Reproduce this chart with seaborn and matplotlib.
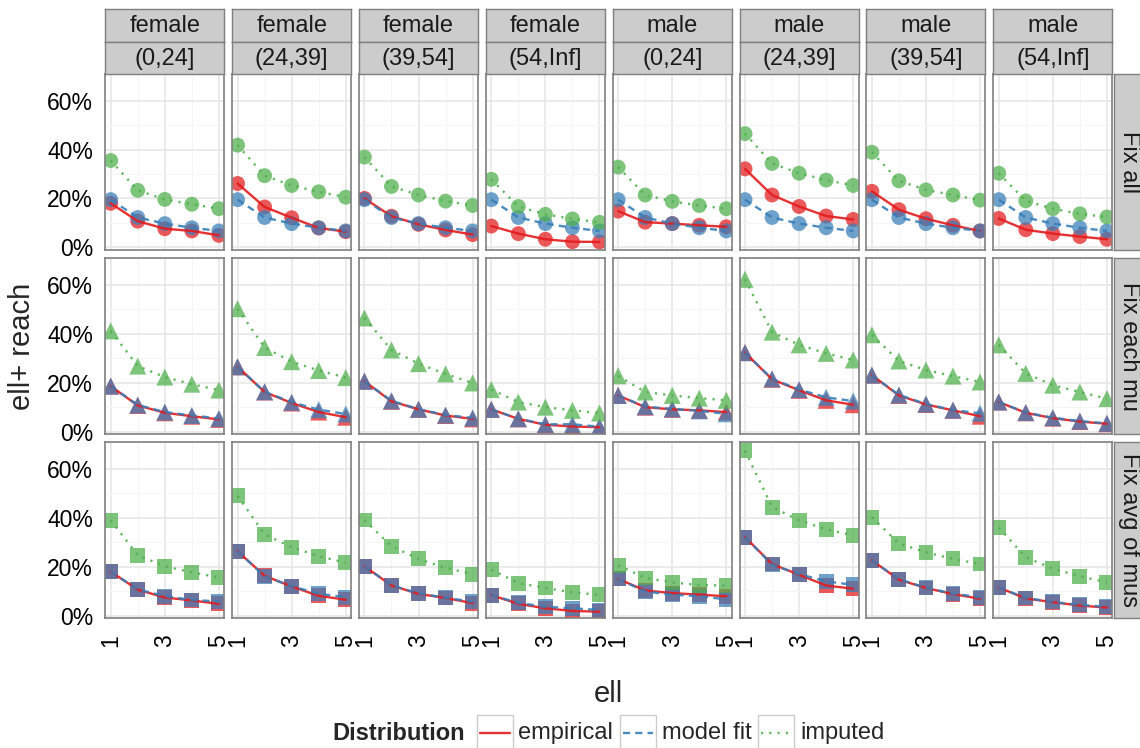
import numpy as np
import pandas as pd
import matplotlib
matplotlib.use("Agg")
import matplotlib.pyplot as plt
from matplotlib.lines import Line2D
from matplotlib.patches import Rectangle
from matplotlib.ticker import FixedLocator, FuncFormatter
import seaborn as sns

# ---------------- data ----------------
ell = [1, 2, 3, 4, 5]
genders = ["female"] * 4 + ["male"] * 4
ages = ["(0,24]", "(24,39]", "(39,54]", "(54,Inf]"] * 2
methods = ["Fix all", "Fix each mu", "Fix avg of mus"]
distributions = ["empirical", "model fit", "imputed"]

fixall_empirical = [
    [0.180, 0.107, 0.076, 0.067, 0.049],
    [0.261, 0.165, 0.121, 0.079, 0.064],
    [0.200, 0.127, 0.094, 0.071, 0.052],
    [0.087, 0.056, 0.033, 0.023, 0.022],
    [0.148, 0.103, 0.097, 0.090, 0.084],
    [0.321, 0.214, 0.167, 0.128, 0.114],
    [0.229, 0.154, 0.117, 0.090, 0.067],
    [0.118, 0.072, 0.056, 0.044, 0.033],
]
fixall_model = [[0.195, 0.122, 0.097, 0.080, 0.067]] * 8
fixall_imputed = [
    [0.355, 0.233, 0.196, 0.176, 0.158],
    [0.418, 0.293, 0.253, 0.227, 0.205],
    [0.369, 0.249, 0.214, 0.189, 0.171],
    [0.278, 0.167, 0.135, 0.116, 0.102],
    [0.328, 0.214, 0.188, 0.171, 0.158],
    [0.465, 0.343, 0.303, 0.275, 0.253],
    [0.389, 0.272, 0.235, 0.214, 0.193],
    [0.303, 0.190, 0.158, 0.137, 0.124],
]

eachmu_empirical = [
    [0.186, 0.107, 0.077, 0.063, 0.050],
    [0.265, 0.162, 0.117, 0.080, 0.059],
    [0.206, 0.124, 0.091, 0.066, 0.052],
    [0.091, 0.052, 0.028, 0.021, 0.018],
    [0.148, 0.100, 0.091, 0.087, 0.080],
    [0.323, 0.214, 0.169, 0.128, 0.110],
    [0.231, 0.148, 0.111, 0.087, 0.063],
    [0.121, 0.077, 0.055, 0.041, 0.032],
]
eachmu_model = [
    [0.186, 0.109, 0.080, 0.066, 0.054],
    [0.265, 0.163, 0.120, 0.090, 0.072],
    [0.206, 0.126, 0.092, 0.068, 0.056],
    [0.091, 0.053, 0.030, 0.030, 0.020],
    [0.148, 0.102, 0.093, 0.085, 0.073],
    [0.323, 0.216, 0.172, 0.140, 0.125],
    [0.231, 0.150, 0.113, 0.088, 0.075],
    [0.121, 0.078, 0.057, 0.043, 0.034],
]
eachmu_imputed = [
    [0.412, 0.268, 0.223, 0.194, 0.170],
    [0.503, 0.344, 0.286, 0.250, 0.221],
    [0.465, 0.334, 0.278, 0.236, 0.199],
    [0.172, 0.121, 0.100, 0.087, 0.076],
    [0.228, 0.162, 0.148, 0.137, 0.128],
    [0.623, 0.407, 0.355, 0.320, 0.293],
    [0.396, 0.289, 0.252, 0.227, 0.203],
    [0.355, 0.238, 0.190, 0.162, 0.135],
]

avgmus_empirical = [
    [0.180, 0.106, 0.074, 0.062, 0.048],
    [0.263, 0.163, 0.119, 0.081, 0.065],
    [0.202, 0.123, 0.089, 0.072, 0.051],
    [0.084, 0.048, 0.030, 0.019, 0.016],
    [0.150, 0.103, 0.092, 0.086, 0.079],
    [0.321, 0.211, 0.167, 0.123, 0.110],
    [0.226, 0.147, 0.113, 0.088, 0.069],
    [0.115, 0.070, 0.055, 0.041, 0.033],
]
avgmus_model = [
    [0.180, 0.107, 0.080, 0.064, 0.058],
    [0.263, 0.161, 0.120, 0.090, 0.075],
    [0.202, 0.124, 0.091, 0.073, 0.057],
    [0.084, 0.052, 0.036, 0.030, 0.023],
    [0.150, 0.099, 0.085, 0.080, 0.066],
    [0.321, 0.208, 0.170, 0.140, 0.126],
    [0.226, 0.149, 0.114, 0.090, 0.075],
    [0.115, 0.072, 0.056, 0.044, 0.036],
]
avgmus_imputed = [
    [0.390, 0.247, 0.202, 0.177, 0.156],
    [0.490, 0.332, 0.280, 0.243, 0.216],
    [0.391, 0.284, 0.232, 0.195, 0.170],
    [0.188, 0.133, 0.113, 0.095, 0.085],
    [0.206, 0.154, 0.136, 0.125, 0.123],
    [0.675, 0.444, 0.390, 0.353, 0.328],
    [0.403, 0.295, 0.259, 0.232, 0.211],
    [0.360, 0.239, 0.192, 0.161, 0.136],
]

y_ticks = [0.0, 0.2, 0.4, 0.6]
x_ticks = [1, 3, 5]

table = {
    "Fix all": [fixall_empirical, fixall_model, fixall_imputed],
    "Fix each mu": [eachmu_empirical, eachmu_model, eachmu_imputed],
    "Fix avg of mus": [avgmus_empirical, avgmus_model, avgmus_imputed],
}
rows = []
for m in methods:
    for d, series in zip(distributions, table[m]):
        for p in range(8):
            for e, v in zip(ell, series[p]):
                rows.append(dict(method=m, panel=p, gender=genders[p], age=ages[p],
                                 Distribution=d, ell=e, reach=v))
df = pd.DataFrame(rows)

# ---------------- style ----------------
sns.set_style("white")
plt.rcParams["font.family"] = ["Liberation Sans", "DejaVu Sans"]

palette = {"empirical": "#E41A1C", "model fit": "#377EB8", "imputed": "#4DAF4A"}
dashes = {"empirical": "", "model fit": (3.0, 2.2), "imputed": (0.9, 2.6)}
row_markers = {"Fix all": "o", "Fix each mu": "^", "Fix avg of mus": "s"}
row_sizes = {"Fix all": 115, "Fix each mu": 150, "Fix avg of mus": 115}

W, H = 1140, 748
fig = plt.figure(figsize=(W / 100, H / 100), dpi=100)

def fx(x):
    return x / W

def fy(y):
    return 1 - y / H

panel_left0 = 105.3
panel_step = 126.86
panel_w = 119.0
row_tops = [74.0, 258.3, 442.3]
panel_h = 176.0
border_col = "#7F7F7F"
strip_col = "#CCCCCC"

for r, m in enumerate(methods):
    for p in range(8):
        L = panel_left0 + p * panel_step
        T = row_tops[r]
        ax = fig.add_axes([fx(L), fy(T + panel_h), panel_w / W, panel_h / H])
        sub = df[(df.method == m) & (df.panel == p)]
        sns.scatterplot(data=sub, x="ell", y="reach", hue="Distribution",
                        hue_order=distributions, palette=palette,
                        marker=row_markers[m], s=row_sizes[m], alpha=0.72,
                        linewidth=0, legend=False, ax=ax, zorder=3)
        sns.lineplot(data=sub, x="ell", y="reach", hue="Distribution",
                     style="Distribution", hue_order=distributions,
                     style_order=distributions, palette=palette, dashes=dashes,
                     linewidth=1.7, alpha=0.9, legend=False, ax=ax,
                     errorbar=None, zorder=4)
        ax.set_xlim(0.8, 5.2)
        ax.set_ylim(-0.011, 0.709)
        ax.xaxis.set_major_locator(FixedLocator(x_ticks))
        ax.xaxis.set_minor_locator(FixedLocator([2, 4]))
        ax.yaxis.set_major_locator(FixedLocator(y_ticks))
        ax.yaxis.set_minor_locator(FixedLocator([0.1, 0.3, 0.5]))
        ax.grid(True, which="major", color="#E6E6E6", lw=1.1, zorder=0)
        ax.grid(True, which="minor", color="#F5F5F5", lw=0.8, zorder=0)
        ax.set_axisbelow(True)
        for s in ax.spines.values():
            s.set_color(border_col)
            s.set_linewidth(1.2)
            s.set_zorder(6)
        ax.set_xlabel("")
        ax.set_ylabel("")
        ax.tick_params(which="minor", length=0)
        ax.tick_params(which="major", direction="out", length=5.8, width=1.1,
                       color="#333333", labelsize=16.5, labelcolor="black", pad=3)
        if p == 0:
            ax.yaxis.set_major_formatter(FuncFormatter(lambda v, _: f"{v*100:.0f}%"))
        else:
            ax.tick_params(axis="y", which="major", left=False, labelleft=False)
        if r == 2:
            ax.tick_params(axis="x", labelrotation=90, pad=6)
        else:
            ax.tick_params(axis="x", which="major", bottom=False, labelbottom=False)

        # top strips
        if r == 0:
            for (y0, y1, txt) in [(9.0, 41.7, genders[p]), (41.7, 73.5, ages[p])]:
                sax = fig.add_axes([fx(L), fy(y1), panel_w / W, (y1 - y0) / H])
                sax.set_facecolor(strip_col)
                sax.set_xticks([])
                sax.set_yticks([])
                for s in sax.spines.values():
                    s.set_color(border_col)
                    s.set_linewidth(1.0)
                sax.text(0.5, 0.47, txt, ha="center", va="center", fontsize=17,
                         color="#1A1A1A", transform=sax.transAxes)
        # right strips
        if p == 7:
            SL = L + panel_w + 1.2
            sax = fig.add_axes([fx(SL), fy(T + panel_h), (W + 4 - SL) / W, panel_h / H])
            sax.set_facecolor(strip_col)
            sax.set_xticks([])
            sax.set_yticks([])
            for s in sax.spines.values():
                s.set_color(border_col)
                s.set_linewidth(1.0)
            sax.text(0.52, 0.5, m, ha="center", va="center", rotation=-90,
                     fontsize=17, color="#1A1A1A", transform=sax.transAxes)

# axis titles
fig.text(fx(22), fy(346), "ell+ reach", rotation=90, ha="center", va="center", fontsize=21)
fig.text(fx(608), fy(694), "ell", ha="center", va="center", fontsize=21)

# legend
leg_y = 733
fig.text(fx(332), fy(leg_y), "Distribution", ha="left", va="center",
         fontsize=17, fontweight="bold")
key_specs = [(477, 518, "empirical"), (620, 662, "model fit"), (758, 800, "imputed")]
for kx, tx, d in key_specs:
    fig.add_artist(Rectangle((fx(kx), fy(752)), 36 / W, 37 / H,
                             transform=fig.transFigure, facecolor="white",
                             edgecolor="#CCCCCC", lw=1.0))
    ln = Line2D([fx(kx + 3), fx(kx + 33)], [fy(leg_y), fy(leg_y)],
                transform=fig.transFigure, color=palette[d], lw=1.7, alpha=0.9)
    if dashes[d]:
        ln.set_dashes(dashes[d])
    fig.add_artist(ln)
    fig.text(fx(tx), fy(leg_y), d, ha="left", va="center", fontsize=17)

fig.savefig("out.png", dpi=100)
